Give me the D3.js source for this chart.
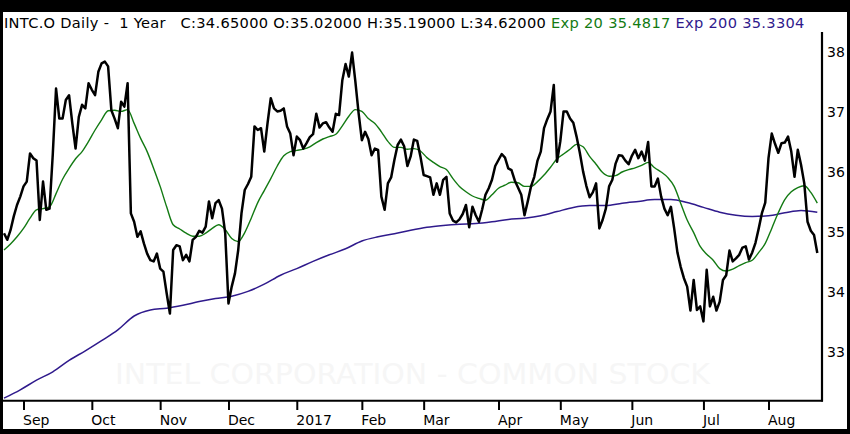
<!DOCTYPE html>
<html>
<head>
<meta charset="utf-8">
<script src="https://cdn.jsdelivr.net/npm/d3@7"></script>
<style>
  html, body { margin: 0; padding: 0; background: #000; }
  svg { display: block; font-family: "DejaVu Sans", Verdana, sans-serif; }
</style>
</head>
<body>
<svg id="chart" width="850" height="434"></svg>
<script>
// trading calendar of the chart (one year of daily bars)
const firstDay = "2016-08-24";
const lastDay = "2017-08-22";
const holidays = ["2016-09-05", "2016-11-24", "2016-12-26", "2017-01-02", "2017-01-16",
                  "2017-02-20", "2017-04-14", "2017-05-29", "2017-07-04"];

// daily closes, one per trading day
const closes = [
  34.98, 34.87, 35.03, 35.26, 35.45, 35.59, 35.76, 35.84, 36.31, 36.23,
  36.19, 35.20, 35.84, 35.37, 35.39, 36.30, 37.39, 36.89, 36.89, 37.20,
  37.28, 36.81, 36.39, 36.92, 37.12, 37.06, 37.48, 37.37, 37.28, 37.67,
  37.81, 37.84, 37.76, 37.03, 36.89, 36.73, 37.17, 37.09, 37.48, 35.31,
  35.17, 34.92, 35.01, 34.81, 34.64, 34.53, 34.51, 34.64, 34.39, 34.34,
  33.98, 33.64, 34.70, 34.78, 34.76, 34.53, 34.62, 34.51, 34.87, 34.92,
  35.02, 34.99, 35.09, 35.51, 35.23, 35.48, 35.53, 35.39, 34.98, 33.81,
  34.09, 34.31, 34.70, 35.31, 35.70, 35.80, 35.92, 36.76, 36.70, 36.73,
  36.34, 36.81, 37.23, 37.06, 37.01, 37.02, 37.06, 36.76, 36.64, 36.28,
  36.59, 36.53, 36.39, 36.48, 36.58, 36.63, 36.97, 36.74, 36.81, 36.83,
  36.74, 36.67, 36.97, 36.95, 37.53, 37.80, 37.59, 37.99, 37.51, 36.98,
  36.53, 36.67, 36.55, 36.28, 36.39, 36.37, 35.59, 35.37, 35.81, 35.91,
  36.20, 36.45, 36.54, 36.43, 36.10, 36.26, 36.54, 36.52, 36.26, 35.95,
  35.93, 35.91, 35.62, 35.81, 35.62, 35.87, 35.92, 35.31, 35.19, 35.16,
  35.21, 35.30, 35.45, 35.08, 35.42, 35.28, 35.17, 35.38, 35.62, 35.73,
  35.87, 36.10, 36.20, 36.30, 36.24, 36.06, 36.03, 35.86, 35.74, 35.62,
  35.28, 35.51, 35.76, 35.92, 36.19, 36.34, 36.73, 36.88, 37.01, 37.45,
  36.17, 36.51, 37.01, 37.01, 36.89, 36.82, 36.59, 36.32, 36.01, 35.77,
  35.58, 35.66, 35.81, 35.06, 35.20, 35.39, 35.76, 35.87, 36.14, 36.28,
  36.27, 36.19, 36.13, 36.27, 36.37, 36.23, 36.34, 36.19, 36.50, 35.76,
  35.76, 35.89, 35.59, 35.39, 35.28, 35.42, 35.06, 34.66, 34.42, 34.23,
  34.09, 33.69, 34.20, 33.70, 33.76, 33.51, 34.37, 33.76, 33.92, 33.69,
  33.84, 34.20, 34.28, 34.69, 34.51, 34.56, 34.62, 34.74, 34.76, 34.54,
  34.66, 34.82, 35.06, 35.32, 35.49, 36.23, 36.64, 36.47, 36.32, 36.48,
  36.49, 36.59, 36.34, 35.92, 36.37, 36.12, 35.81, 35.17, 35.02, 34.95,
  34.65
];

const ema20Step = 2;
const ema20 = [
  34.70, 34.80, 34.92, 35.06, 35.23, 35.37, 35.39, 35.42, 35.64, 35.88,
  36.06, 36.22, 36.34, 36.51, 36.70, 36.87, 37.02, 37.03, 37.01, 37.04,
  36.81, 36.56, 36.34, 36.06, 35.76, 35.42, 35.12, 35.05, 34.98, 34.93,
  34.93, 34.98, 35.06, 35.12, 35.04, 34.89, 34.84, 34.99, 35.23, 35.49,
  35.69, 35.89, 36.10, 36.27, 36.34, 36.36, 36.38, 36.42, 36.49, 36.55,
  36.59, 36.63, 36.77, 36.93, 37.04, 37.01, 36.89, 36.81, 36.67, 36.51,
  36.41, 36.41, 36.38, 36.39, 36.35, 36.24, 36.16, 36.09, 36.04, 35.89,
  35.76, 35.67, 35.60, 35.56, 35.53, 35.62, 35.73, 35.78, 35.83, 35.82,
  35.76, 35.76, 35.84, 35.95, 36.08, 36.22, 36.30, 36.38, 36.46, 36.42,
  36.26, 36.13, 35.99, 35.93, 35.94, 36.00, 36.04, 36.07, 36.11, 36.16,
  36.07, 36.00, 35.91, 35.76, 35.48, 35.20, 34.99, 34.76, 34.63, 34.53,
  34.39, 34.35, 34.38, 34.44, 34.49, 34.53, 34.66, 34.81, 35.06, 35.32,
  35.54, 35.67, 35.74, 35.77, 35.66, 35.48
];
const ema200Step = 5;
const ema200 = [
  32.23, 32.37, 32.53, 32.67, 32.86, 33.02, 33.19, 33.37, 33.60, 33.70,
  33.73, 33.78, 33.84, 33.89, 33.93, 34.01, 34.13, 34.28, 34.39, 34.51,
  34.62, 34.72, 34.85, 34.92, 34.97, 35.03, 35.08, 35.11, 35.13, 35.14,
  35.17, 35.21, 35.23, 35.27, 35.34, 35.41, 35.44, 35.44, 35.48, 35.51,
  35.54, 35.54, 35.49, 35.41, 35.33, 35.28, 35.26, 35.27, 35.32, 35.36,
  35.33
];

const priceTicks = [33, 34, 35, 36, 37, 38];
const monthLabels = ["Sep", "Oct", "Nov", "Dec", "2017", "Feb", "Mar", "Apr", "May", "Jun", "Jul", "Aug"];

const headerBlack = "INTC.O Daily -  1 Year   C:34.65000 O:35.02000 H:35.19000 L:34.62000 ";
const headerEma20 = "Exp 20 35.4817 ";
const headerEma200 = "Exp 200 35.3304";
const watermark = "INTEL CORPORATION - COMMON STOCK";

const green = "#137a13";
const purple = "#2f1a8c";

const W = 850, H = 434;
const plot = { left: 3, right: 822, top: 32, bottom: 400 };

const svg = d3.select("#chart");

// frame: black border, white card
svg.append("rect").attr("width", W).attr("height", H).attr("fill", "#000");
svg.append("rect")
    .attr("x", 3).attr("y", 12)
    .attr("width", 844).attr("height", 417)
    .attr("fill", "#fff");

// trading days
const parseDay = d3.utcParse("%Y-%m-%d");
const fmtDay = d3.utcFormat("%Y-%m-%d");
const holidaySet = new Set(holidays);
const tradingDays = d3.utcDays(parseDay(firstDay), d3.utcDay.offset(parseDay(lastDay), 1))
    .filter(d => d.getUTCDay() !== 0 && d.getUTCDay() !== 6 && !holidaySet.has(fmtDay(d)));
const dayKeys = tradingDays.map(fmtDay);
const monthStarts = dayKeys.filter((k, i) => i > 0 && tradingDays[i].getUTCMonth() !== tradingDays[i - 1].getUTCMonth());

const x = d3.scalePoint().domain(dayKeys).range([4, 817.3]);
const y = d3.scaleLinear().domain([32.2, 38 + 20 / 60]).range([plot.bottom, plot.top]);

// watermark
svg.append("text")
    .attr("x", 115).attr("y", 384)
    .attr("textLength", 595)
    .attr("lengthAdjust", "spacingAndGlyphs")
    .style("font-size", "29px")
    .attr("fill", "#f6f6f6")
    .text(watermark);

// header
const header = svg.append("text")
    .attr("x", 4).attr("y", 28)
    .attr("xml:space", "preserve")
    .style("white-space", "pre")
    .style("letter-spacing", "0.3px")
    .style("font-size", "14.6px");
header.append("tspan").attr("fill", "#000").text(headerBlack);
header.append("tspan").attr("fill", green).text(headerEma20);
header.append("tspan").attr("fill", purple).text(headerEma200);

// lines
svg.append("clipPath").attr("id", "plotClip")
    .append("rect")
    .attr("x", plot.left).attr("y", plot.top)
    .attr("width", plot.right - plot.left).attr("height", plot.bottom - plot.top);

const lines = svg.append("g").attr("clip-path", "url(#plotClip)");

const emaLine = step => d3.line()
    .x((v, k) => x(dayKeys[k * step]))
    .y(v => y(v))
    .curve(d3.curveMonotoneX);

lines.append("path")
    .attr("d", emaLine(ema200Step)(ema200))
    .attr("fill", "none")
    .attr("stroke", purple)
    .attr("stroke-width", 1.5);

lines.append("path")
    .attr("d", emaLine(ema20Step)(ema20))
    .attr("fill", "none")
    .attr("stroke", green)
    .attr("stroke-width", 1.4);

const closeLine = d3.line()
    .x((v, i) => x(dayKeys[i]))
    .y(v => y(v));

lines.append("path")
    .attr("d", closeLine(closes))
    .attr("fill", "none")
    .attr("stroke", "#000")
    .attr("stroke-width", 2.5)
    .attr("stroke-linejoin", "round");

// plot frame
svg.append("line")
    .attr("x1", plot.right).attr("x2", plot.right)
    .attr("y1", plot.top).attr("y2", plot.bottom + 1.5)
    .attr("stroke", "#000").attr("stroke-width", 2.2);
svg.append("line")
    .attr("x1", plot.left).attr("x2", plot.right + 1)
    .attr("y1", plot.bottom + 0.8).attr("y2", plot.bottom + 0.8)
    .attr("stroke", "#000").attr("stroke-width", 2);

// x axis
const xAxis = svg.append("g")
    .attr("transform", `translate(0, ${plot.bottom + 1})`)
    .call(d3.axisBottom(x)
        .tickValues(monthStarts)
        .tickFormat((d, i) => monthLabels[i])
        .tickSize(9)
        .tickPadding(5));
xAxis.select(".domain").remove();
xAxis.selectAll(".tick line").attr("stroke", "#000").attr("stroke-width", 2);
xAxis.selectAll(".tick text")
    .attr("text-anchor", "start")
    .attr("dx", -1)
    .attr("fill", "#000")
    .style("font-family", "DejaVu Sans, Verdana, sans-serif")
    .style("font-size", "14px");

// y axis on the right
const yAxis = svg.append("g")
    .attr("transform", `translate(${plot.right}, 0)`)
    .call(d3.axisRight(y)
        .tickValues(priceTicks)
        .tickFormat(d3.format("d"))
        .tickSize(0)
        .tickPadding(5));
yAxis.select(".domain").remove();
yAxis.selectAll(".tick text")
    .attr("fill", "#000")
    .style("font-family", "DejaVu Sans, Verdana, sans-serif")
    .style("font-size", "14px");
</script>
</body>
</html>
